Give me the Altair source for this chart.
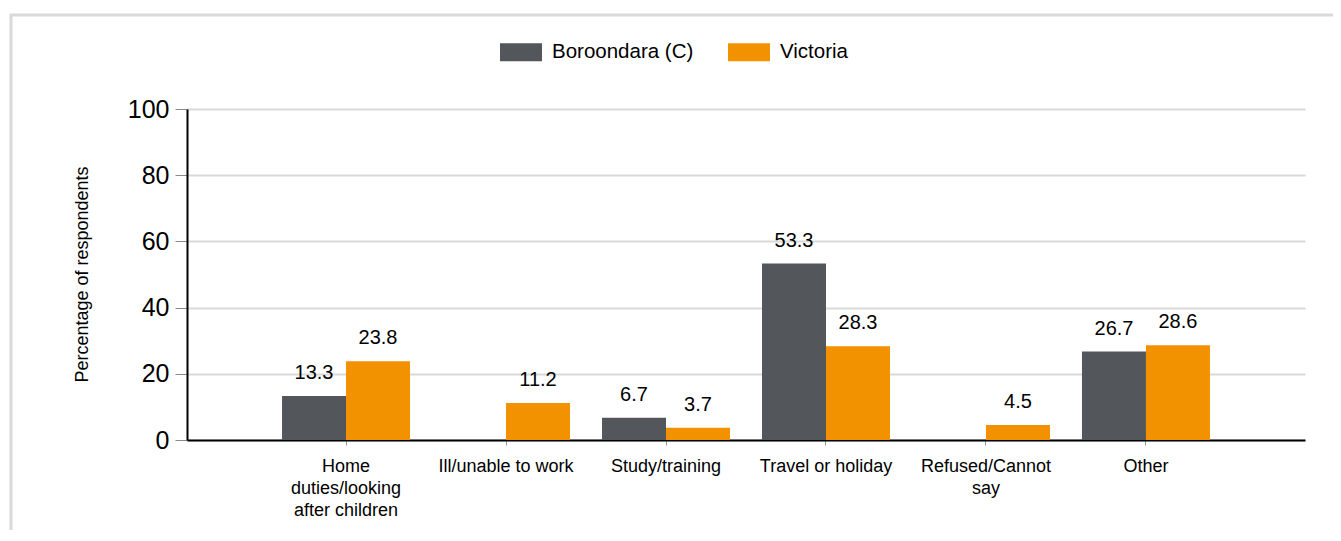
import altair as alt
import pandas as pd

categories = ["Home duties/looking after children", "Ill/unable to work", "Study/training",
              "Travel or holiday", "Refused/Cannot say", "Other"]
label_lines = {
    "Home duties/looking after children": ["Home", "duties/looking", "after children"],
    "Ill/unable to work": ["Ill/unable to work"],
    "Study/training": ["Study/training"],
    "Travel or holiday": ["Travel or holiday"],
    "Refused/Cannot say": ["Refused/Cannot", "say"],
    "Other": ["Other"],
}
series = ["Boroondara (C)", "Victoria"]
boroondara = [13.3, None, 6.7, 53.3, None, 26.7]
victoria = [23.8, 11.2, 3.7, 28.3, 4.5, 28.6]
colors = ["#53565A", "#F39200"]

rows = []
for c, b, v in zip(categories, boroondara, victoria):
    if b is not None:
        rows.append({"category": c, "series": series[0], "value": b})
    if v is not None:
        rows.append({"category": c, "series": series[1], "value": v})
df = pd.DataFrame(rows)

label_expr = "{" + ", ".join(
    "'" + k.replace("'", "\\'") + "': [" + ", ".join("'" + s + "'" for s in v) + "]"
    for k, v in label_lines.items()
) + "}[datum.value]"

FONT = "Liberation Sans"

x_enc = alt.X(
    "category:N",
    sort=categories,
    scale=alt.Scale(paddingInner=0.2, paddingOuter=0.594),
    axis=alt.Axis(
        title=None, labelAngle=0, labelExpr=label_expr, labelFontSize=18,
        labelColor="#000000", labelFont=FONT, labelLineHeight=22,
        domainColor="#000000", domainWidth=2, tickColor="#999999", tickSize=5,
        labelPadding=12, grid=False, labelLimit=300,
    ),
)
xo_enc = alt.XOffset("series:N", sort=series, scale=alt.Scale(paddingInner=0, paddingOuter=0))
y_enc = alt.Y(
    "value:Q",
    scale=alt.Scale(domain=[0, 100]),
    axis=alt.Axis(
        title="Percentage of respondents", values=[0, 20, 40, 60, 80, 100],
        labelFontSize=25, labelColor="#000000", labelFont=FONT, labelPadding=6,
        tickSize=12, tickColor="#888888", domainColor="#000000", domainWidth=2,
        gridColor="#D9D9D9", gridWidth=2,
        titleFont=FONT, titleFontSize=18, titleFontWeight="normal", titleColor="#000000",
        titleX=-105, titleY=165, titleAngle=-90, titleAlign="center", titleBaseline="middle",
    ),
)

bars = alt.Chart(df).mark_bar(size=64).encode(
    x=x_enc,
    xOffset=xo_enc,
    y=y_enc,
    color=alt.Color(
        "series:N",
        scale=alt.Scale(domain=series, range=colors),
        legend=alt.Legend(
            title=None, orient="none", legendX=313, legendY=-78, direction="horizontal",
            symbolType="M-1,-0.4286L1,-0.4286L1,0.4286L-1,0.4286Z", symbolSize=1764,
            symbolStrokeWidth=0, symbolOpacity=1, labelFontSize=20.5, labelFont=FONT,
            labelColor="#000000", labelOffset=10, columnPadding=34,
        ),
    ),
)

labels = alt.Chart(df).mark_text(
    baseline="alphabetic", dy=-17, fontSize=20, font=FONT, color="#000000"
).encode(
    x=alt.X("category:N", sort=categories),
    xOffset=alt.XOffset("series:N", sort=series),
    y="value:Q",
    text=alt.Text("value:Q", format=".1f"),
)

frame = alt.Chart(pd.DataFrame({"k": [0]})).mark_rect(
    fillOpacity=0, stroke="#D9D9D9", strokeWidth=3
).encode(
    x=alt.value(-176), x2=alt.value(1300), y=alt.value(-94), y2=alt.value(600)
)

chart = alt.layer(frame, bars, labels).properties(
    width=1118, height=331,
    background="#FFFFFF",
    autosize=alt.AutoSizeParams(type="none"),
    padding={"left": 179, "top": 101, "right": 28, "bottom": 90},
).configure_view(stroke=None)

chart.save("out.html", embed_options={"renderer": "svg", "actions": False})
